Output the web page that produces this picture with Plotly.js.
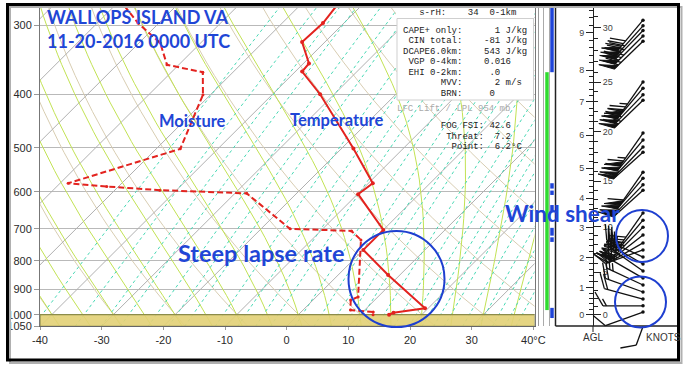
<!DOCTYPE html>
<html><head><meta charset="utf-8">
<script src="https://cdn.plot.ly/plotly-3.0.1.min.js"></script>
<style>html,body{margin:0;padding:0;background:#fff}#chart{width:689px;height:366px}</style>
</head><body><div id="chart"></div>
<script>
// ---------------- data ----------------
const tempP = [277, 297.5, 322, 352, 364, 400, 501, 579, 606, 703, 764, 848, 974, 992, 1000];
const tempC = [-44.0, -43.4, -43.7, -39.1, -38.9, -32.3, -18.1, -9.3, -9.9, 0.0, 0.0, 8.1, 19.5, 15.1, 14.7];
const dewP = [277, 297.5, 323, 354, 365, 401, 502, 579, 587, 596, 604, 700, 706, 733, 929, 941, 981, 989, 1000];
const dewC = [-78.4, -73.4, -66.6, -61.9, -54.9, -51.2, -46.1, -58.7, -51.9, -42.7, -28.1, -15.3, -5.0, -2.0, 6.8, 6.1, 7.7, 11.7, 12.1];

const windP   = [294, 301, 307, 314, 321, 380, 390, 401, 410, 470, 484, 498, 509, 553, 567, 583, 596, 655, 675, 695, 718, 742, 764, 787, 810, 834, 859, 884, 910, 937, 964, 989];
const windDir = [220, 222, 224, 225, 226, 215, 220, 224, 226, 215, 220, 224, 228, 215, 220, 224, 228, 215, 220, 225, 232, 240, 250, 295, 300, 305, 300, 295, 290, 285, 270, 250];
const windKt  = [ 80,  80,  75,  75,  70,  75,  70,  70,  65,  65,  60,  60,  55,  60,  55,  55,  50,  40,  40,  45,  50,  45,  40,  35,  30,  30,  25,  25,  20,  20,  15,  10];
const sfcWindP = [1050], sfcWindDir = [200], sfcWindKt = [10];

const pressTicks = [300, 400, 500, 600, 700, 800, 900, 1000, 1050];
const tempTicks = [-40, -30, -20, -10, 0, 10, 20, 30, 40];
const tempTickText = ['-40', '-30', '-20', '-10', '0', '10', '20', '30', '40°C'];
const kmLabels = ['0', '1', '2', '3', '4', '5', '6', '7', '8', '9'];
const kmHpa = [1000, 895, 790, 697, 616, 544, 474, 413, 362, 310];
const kftValues = [0, 5, 10, 15, 20, 25, 30];

const greenBarP = [[365, 981]];
const blueBarP = [[270, 365], [579, 592], [597, 608], [634, 653], [697, 720], [725, 739], [972, 1014]];

const isoTemps = [];   for (let t = -130; t <= 40; t += 10) isoTemps.push(t);
const dryThetas = [];  for (let t = -50; t <= 120; t += 10) dryThetas.push(t);
const moistThetas = [];for (let t = -40; t <= 40; t += 5) moistThetas.push(t);
const mixRatios = [0.1, 0.2, 0.3, 0.4, 0.6, 0.8, 1, 1.5, 2, 2.5, 3, 4, 5, 6, 7, 8, 10, 12, 14, 16, 18, 20, 24, 28, 32, 36, 40];

// ---------------- geometry helpers ----------------
const W = 689, H = 366;
const px = x => x / W, py = y => 1 - y / H;
const PB = 1050, SKEW = 90, PXDEC = 554;
const LOGTOP = 2.4428;
const sk = (T, p) => T + SKEW * (Math.log10(PB) - Math.log10(p));

function esat(Tc) { return 6.112 * Math.exp(17.67 * Tc / (Tc + 243.5)); }

const isoX = [], isoY = [];
isoTemps.forEach(t => { [1050, 250].forEach(p => { isoX.push(sk(t, p)); isoY.push(p); }); isoX.push(null); isoY.push(null); });
const dryX = [], dryY = [];
dryThetas.forEach(th => {
  for (let p = 1050; p >= 250; p -= 20) { const T = (th + 273.15) * Math.pow(p / 1000, 0.2857) - 273.15; dryX.push(sk(T, p)); dryY.push(p); }
  dryX.push(null); dryY.push(null);
});
function moistLine(T0) {
  const Rd = 287.04, cp = 1005.7, Lv = 2.501e6, eps = 0.622;
  const f = (p, Tk) => { const es = esat(Tk - 273.15); const rs = eps * es / (p - es); return (Rd * Tk + Lv * rs) / (cp + Lv * Lv * rs * eps / (Rd * Tk * Tk)); };
  const pts = [];
  function run(dl, pend) {
    let lnp = Math.log(1000), T = T0 + 273.15, out = [];
    let k = 0;
    while ((dl < 0 && Math.exp(lnp) > pend) || (dl > 0 && Math.exp(lnp) < pend)) {
      const p = Math.exp(lnp);
      const k1 = f(p, T), k2 = f(Math.exp(lnp + dl / 2), T + k1 * dl / 2);
      T += k2 * dl; lnp += dl; k++;
      if (k % 4 === 0) out.push([Math.exp(lnp), T - 273.15]);
    }
    out.push([Math.exp(lnp), T - 273.15]);
    return out;
  }
  const up = run(-0.01, 250), down = run(0.01, 1055);
  down.reverse().forEach(a => pts.push(a));
  pts.push([1000, T0]);
  up.forEach(a => pts.push(a));
  return pts;
}
const moX = [], moY = [];
moistThetas.forEach(t => { moistLine(t).forEach(a => { moX.push(sk(a[1], a[0])); moY.push(a[0]); }); moX.push(null); moY.push(null); });
const mrX = [], mrY = [];
mixRatios.forEach(w => {
  for (let p = 1050; p >= 250; p -= 50) {
    const e = (w / 1000) * p / (0.622 + w / 1000); const l = Math.log(e / 6.112);
    const Td = 243.5 * l / (17.67 - l); mrX.push(sk(Td, p)); mrY.push(p);
  }
  mrX.push(null); mrY.push(null);
});

// wind barbs
const STX = 643;
function buildBarbs(P, D, S, L) {
  const lx = [], ly = [], fx = [], fy = [], dx = [], dy = [];
  const F = 16, WP = 5, SP = 3.5;
  for (let i = 0; i < P.length; i++) {
    const p = P[i], b = D[i] * Math.PI / 180, bf = (D[i] + 60) * Math.PI / 180;
    const u = [Math.sin(b), Math.cos(b)], v = [Math.sin(bf), Math.cos(bf)];
    const conv = (e, n) => [STX + e, Math.pow(10, Math.log10(p) - n / PXDEC)];
    const at = d => [u[0] * d, u[1] * d];
    const push = (arrx, arry, pts) => { pts.forEach(q => { const c = conv(q[0], q[1]); arrx.push(c[0]); arry.push(c[1]); }); arrx.push(null); arry.push(null); };
    push(lx, ly, [[0, 0], at(L)]);
    dx.push(STX); dy.push(p);
    let spd = Math.round(S[i] / 5) * 5;
    let n50 = Math.floor(spd / 50); spd -= n50 * 50;
    let n10 = Math.floor(spd / 10); spd -= n10 * 10;
    let n5 = spd >= 5 ? 1 : 0;
    let d = L;
    for (let k = 0; k < n50; k++) {
      const a = at(d), c = at(d - WP);
      push(fx, fy, [a, [a[0] + v[0] * F, a[1] + v[1] * F], c, a]);
      d -= WP + 1;
    }
    for (let k = 0; k < n10; k++) { const a = at(d); push(lx, ly, [a, [a[0] + v[0] * F, a[1] + v[1] * F]]); d -= SP; }
    if (n5) { if (n50 + n10 === 0) d -= SP; const a = at(d); push(lx, ly, [a, [a[0] + v[0] * F / 2, a[1] + v[1] * F / 2]]); }
  }
  return { lx, ly, fx, fy, dx, dy };
}
const barbs = buildBarbs(windP, windDir, windKt, 40);
const sfcBarb = buildBarbs(sfcWindP, sfcWindDir, sfcWindKt, 20);

function bars(list, x) { const X = [], Y = []; list.forEach(s => { X.push(x, x, null); Y.push(s[0], s[1], null); }); return { X, Y }; }
const gb = bars(greenBarP, 547), bb = bars(blueBarP, 552);

function hgtToP(h) {
  let i = Math.min(Math.max(Math.floor(h), 0), kmHpa.length - 2);
  const t = h - i; return Math.pow(10, Math.log10(kmHpa[i]) + t * (Math.log10(kmHpa[i + 1]) - Math.log10(kmHpa[i])));
}
const kmMinor = []; for (let k = 1; k <= 49; k++) { if (k % 5) kmMinor.push(hgtToP(k * 0.2)); }
const kftP = kftValues.map(v => hgtToP(v * 0.3048));
const kftMinor = []; for (let k = 1; k <= 32; k++) { if (k % 5) kftMinor.push(hgtToP(k * 0.3048)); }

// ---------------- traces ----------------
const tr = [];
const bgLine = (X, Y, color, dash) => ({ x: X, y: Y, mode: 'lines', line: { color, width: 1, dash: dash || 'solid' }, hoverinfo: 'skip', showlegend: false, connectgaps: false });
tr.push(bgLine(dryX, dryY, '#d8cdb2'));
tr.push(bgLine(isoX, isoY, '#b0b0b0'));
tr.push(bgLine(moX, moY, '#c2e254'));
tr.push(bgLine(mrX, mrY, '#48d8b4', '3px,3px'));
tr.push({ x: [-40, 40.2, 40.2, -40, -40], y: [1000, 1000, 1050, 1050, 1000], mode: 'lines', fill: 'toself',
  fillcolor: 'rgba(226,208,118,0.9)', line: { color: '#8c8c4a', width: 1.2 }, hoverinfo: 'skip', showlegend: false });
tr.push({ x: dewP.map((p, i) => sk(dewC[i], p)), y: dewP, mode: 'lines+markers', line: { color: '#e3231f', width: 2, dash: '6px,3px' },
  marker: { size: 3, color: '#e3231f' }, hoverinfo: 'skip', showlegend: false });
tr.push({ x: tempP.map((p, i) => sk(tempC[i], p)), y: tempP, mode: 'lines+markers', line: { color: '#e3231f', width: 2 },
  marker: { size: 4, color: '#e3231f' }, hoverinfo: 'skip', showlegend: false });
tr.push({ x: gb.X, y: gb.Y, xaxis: 'x2', yaxis: 'y2', mode: 'lines', line: { color: '#2fdc2f', width: 3.5 }, hoverinfo: 'skip', showlegend: false });
tr.push({ x: bb.X, y: bb.Y, xaxis: 'x2', yaxis: 'y2', mode: 'lines', line: { color: '#1f44d8', width: 3.5 }, hoverinfo: 'skip', showlegend: false });
[barbs, sfcBarb].forEach(bs => {
  tr.push({ x: bs.lx, y: bs.ly, xaxis: 'x2', yaxis: 'y2', mode: 'lines', line: { color: '#111', width: 1.3 }, hoverinfo: 'skip', showlegend: false });
  tr.push({ x: bs.fx, y: bs.fy, xaxis: 'x2', yaxis: 'y2', mode: 'lines', fill: 'toself', fillcolor: '#111', line: { color: '#111', width: 1 }, hoverinfo: 'skip', showlegend: false });
});
tr.push({ x: barbs.dx, y: barbs.dy, xaxis: 'x2', yaxis: 'y2', mode: 'markers', marker: { size: 3.5, color: '#111' }, hoverinfo: 'skip', showlegend: false });
tr.push({ x: [0], y: [500], yaxis: 'y3', mode: 'markers', marker: { opacity: 0 }, hoverinfo: 'skip', showlegend: false });
tr.push({ x: [0], y: [500], yaxis: 'y4', mode: 'markers', marker: { opacity: 0 }, hoverinfo: 'skip', showlegend: false });

// ---------------- layout ----------------
const tickFont = { family: 'Liberation Sans, Arial, sans-serif', size: 11, color: '#2a2a2a' };
const yRange = [Math.log10(1050), LOGTOP];
const hAxis = (side, vals, text, minor) => ({
  overlaying: 'y', anchor: 'free', position: px(593), side, type: 'log', range: yRange,
  tickmode: 'array', tickvals: vals, ticktext: text, ticks: 'outside', ticklen: 7, tickcolor: '#222', tickwidth: 1,
  showline: true, linecolor: '#222', linewidth: 1, showgrid: false, zeroline: false,
  tickfont: { family: 'Liberation Sans, Arial, sans-serif', size: 9, color: '#444' },
  minor: { tickmode: 'array', tickvals: minor, ticks: 'outside', ticklen: 4, tickcolor: '#222', tickwidth: 1, showgrid: false },
  fixedrange: true
});

const blue = '#1f46d6';
const ann = [];
const addT = (text, x, y, size, opts) => ann.push(Object.assign({ text, x: px(x), y: py(y), xref: 'paper', yref: 'paper', showarrow: false,
  xanchor: 'left', yanchor: 'middle', font: { family: 'Lato, Open Sans, sans-serif', size, color: blue, weight: 700 } }, opts || {}));
addT('WALLOPS ISLAND VA', 45, 17, 18);
addT('11-20-2016 0000 UTC', 45, 41, 18);
addT('Moisture', 192, 121, 16.5, { xanchor: 'center' });
addT('Temperature', 336, 120, 16.5, { xanchor: 'center' });
addT('Steep lapse rate', 261, 253, 23.5, { xanchor: 'center' });
addT('Wind shear', 562, 213, 22.5, { xanchor: 'center' });

const mono = (s, x, y, color) => ann.push({ text: s.replace(/ /g, '\u00A0'), x: px(x), y: py(y), xref: 'paper', yref: 'paper', showarrow: false,
  xanchor: 'left', yanchor: 'middle', font: { family: 'Liberation Mono, DejaVu Sans Mono, monospace', size: 9, color: color || '#222' } });
const statRows = [
  ['   s-rH:    34  0-1km', 13],
  ['CAPE+ only:      1 J/kg', 31],
  [' CIN total:    -81 J/kg', 41.5],
  ['DCAPE6.0km:    543 J/kg', 52],
  [' VGP 0-4km:    0.016', 62.3],
  [' EHI 0-2km:     .0', 72.5],
  ['       MVV:      2 m/s', 83],
  ['       BRN:     0', 93.5],
  ['       FOG FSI: 42.6', 126],
  ['        Threat:  7.2', 136.5],
  ['         Point:  6.2°C', 147]
];
statRows.forEach(r => mono(r[0], 401, r[1]));
mono('LFC Lift / LPL 954 mb', 395, 109, '#aaaaaa');
const lab = (t, x, y) => ann.push({ text: t, x: px(x), y: py(y), xref: 'paper', yref: 'paper', showarrow: false, xanchor: 'center', yanchor: 'middle',
  font: { family: 'Liberation Sans, Arial, sans-serif', size: 10, color: '#333' } });
lab('AGL', 593, 337); lab('KNOTS', 663, 337);

const shapes = [];
const pl = (x0, y0, x1, y1, color, width, layer) => shapes.push({ type: 'line', xref: 'paper', yref: 'paper', x0: px(x0), y0: py(y0), x1: px(x1), y1: py(y1), line: { color, width }, layer: layer || 'below' });
pl(538.5, 6, 538.5, 326, '#9a9a9a', 1);
pl(543.5, 6, 543.5, 326, '#aaaaaa', 1);
pl(549.5, 6, 549.5, 326, '#aaaaaa', 1);
pl(555.5, 6, 555.5, 326, '#222', 1.5);
pl(555.5, 326, 679, 326, '#222', 1.5);
pl(593, 326, 593, 332, '#222', 1);
shapes.push({ type: 'rect', xref: 'paper', yref: 'paper', x0: px(396), y0: py(4), x1: px(534), y1: py(18), fillcolor: '#fff', line: { width: 0 }, layer: 'above' });
shapes.push({ type: 'rect', xref: 'paper', yref: 'paper', x0: px(397), y0: py(18.5), x1: px(533.5), y1: py(100), fillcolor: '#fff', line: { color: '#cfcfcf', width: 1 }, layer: 'above' });
const circ = (cx, cy, r) => shapes.push({ type: 'circle', xref: 'paper', yref: 'paper', x0: px(cx - r), x1: px(cx + r), y0: py(cy + r), y1: py(cy - r), line: { color: '#1e3fd0', width: 2 }, layer: 'above' });
circ(396.5, 279, 48);
circ(642, 236, 26);
circ(640.5, 302, 25.5);
shapes.push({ type: 'rect', xref: 'paper', yref: 'paper', x0: px(10), y0: py(363), x1: px(681.5), y1: py(7), line: { color: '#b0b0b0', width: 2 }, layer: 'above' });
shapes.push({ type: 'rect', xref: 'paper', yref: 'paper', x0: px(7.5), y0: py(360), x1: px(678.5), y1: py(4.5), line: { color: '#000', width: 3 }, layer: 'above' });

const layout = {
  width: W, height: H, margin: { l: 0, r: 0, t: 0, b: 0 },
  paper_bgcolor: '#fff', plot_bgcolor: 'rgba(0,0,0,0)', showlegend: false,
  xaxis: { domain: [px(40), px(534.5)], range: [-40, 40.19], tickmode: 'array', tickvals: tempTicks, ticktext: tempTickText,
    showgrid: false, zeroline: false, showline: true, linecolor: '#666', ticks: 'outside', ticklen: 3, tickcolor: '#999',
    tickfont: tickFont, anchor: 'y', fixedrange: true },
  yaxis: { domain: [py(326.4), py(6)], type: 'log', range: yRange, tickmode: 'array', tickvals: pressTicks, ticktext: pressTicks.map(String),
    showgrid: true, gridcolor: '#b9b9b9', gridwidth: 1, showline: true, mirror: true, linecolor: '#777', ticks: 'outside', ticklen: 5,
    tickcolor: '#999', tickfont: tickFont, zeroline: false, anchor: 'x', fixedrange: true },
  xaxis2: { domain: [px(536), px(680)], range: [536, 680], visible: false, anchor: 'y2', fixedrange: true },
  yaxis2: { domain: [py(350), py(6)], type: 'log', range: [3.06373, LOGTOP], visible: false, anchor: 'x2', fixedrange: true },
  yaxis3: hAxis('left', kmHpa, kmLabels, kmMinor),
  yaxis4: hAxis('right', kftP, kftValues.map(String), kftMinor),
  annotations: ann, shapes: shapes
};
Plotly.newPlot('chart', tr, layout, { displayModeBar: false, staticPlot: true });
</script>
</body></html>
